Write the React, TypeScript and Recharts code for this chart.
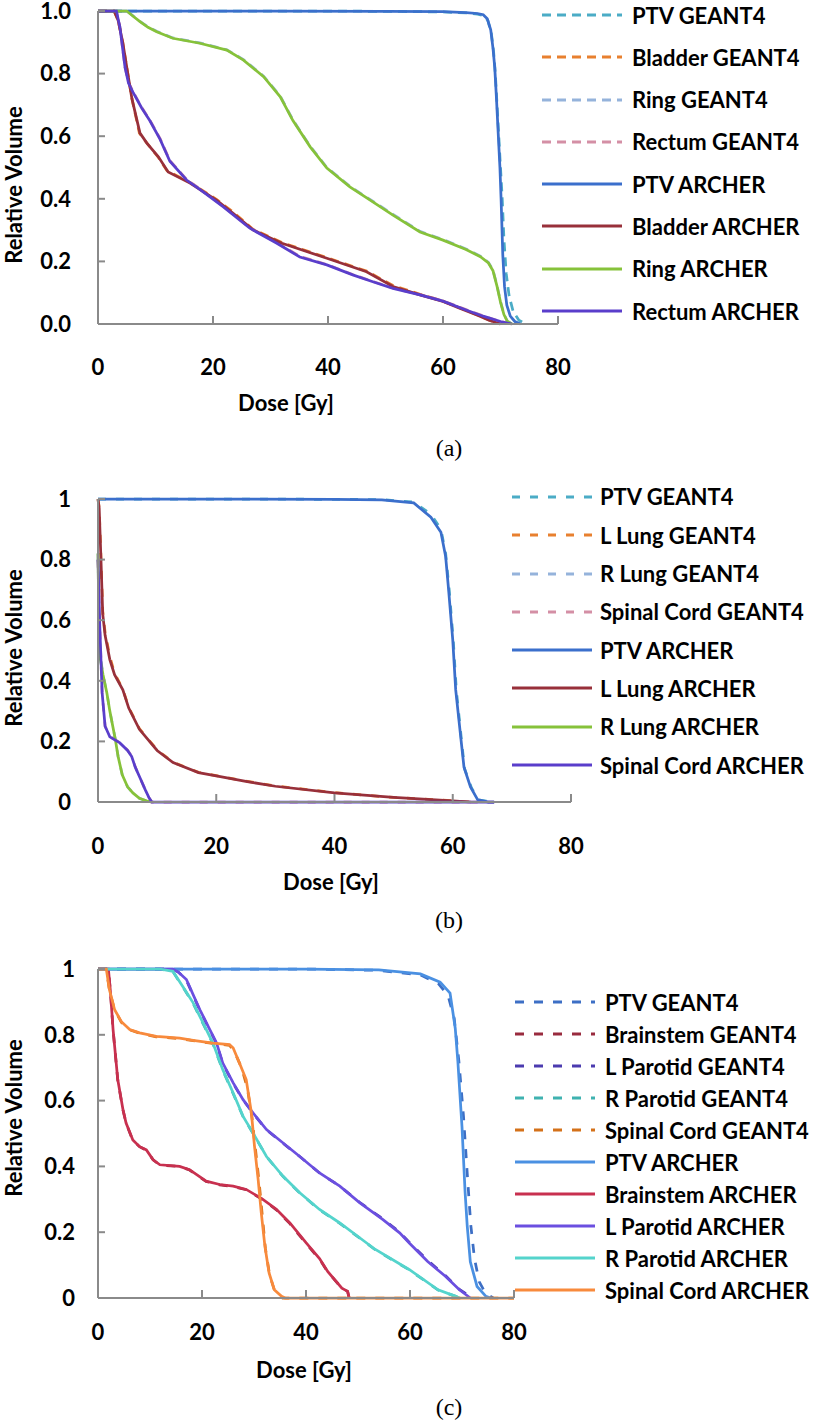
import React from 'react'
import { LineChart, Line, XAxis, YAxis, Legend } from 'recharts'

type Pt = [number, number]

// ---- (a) prostate: [dose Gy, relative volume]
const ptvG4A: Pt[] = [[0,1],[30,1],[50,0.999],[60,0.997],[64,0.994],[66,0.99],[67,0.985],[67.8,0.97],[68.4,0.93],[68.8,0.87],[69.1,0.8],[69.4,0.7],[69.7,0.6],[70,0.5],[70.3,0.4],[70.6,0.27],[71,0.16],[71.5,0.09],[72.2,0.04],[73.2,0.012],[74.5,0]]
const bladderG4A: Pt[] = [[0,1],[2.8,1],[3.5,0.97],[4.3,0.9],[5,0.82],[5.9,0.72],[7.2,0.61],[8.4,0.58],[10.4,0.535],[12,0.49],[16,0.452],[20.6,0.398],[23.6,0.356],[27,0.302],[32,0.26],[39.8,0.212],[46.7,0.169],[51.3,0.123],[56,0.095],[60,0.073],[63,0.051],[66,0.029],[68,0.013],[70,0]]
const ringG4A: Pt[] = [[0,1],[5,1],[6,0.986],[7.3,0.967],[8.7,0.949],[10.2,0.935],[13,0.914],[17.7,0.898],[22.4,0.876],[25.3,0.845],[28.8,0.792],[31.7,0.728],[33.9,0.652],[36.9,0.568],[39.8,0.5],[43.8,0.44],[46.8,0.404],[51.3,0.35],[56,0.296],[60,0.27],[64,0.24],[66.5,0.217],[67.9,0.197],[68.7,0.172],[69.4,0.122],[70,0.072],[70.6,0.032],[71.2,0.009],[72,0]]
const rectumG4A: Pt[] = [[0,1],[3.2,1],[3.8,0.95],[4.7,0.82],[5.3,0.772],[6.1,0.742],[7.6,0.692],[9,0.652],[10.8,0.592],[12.5,0.522],[15.4,0.462],[17.7,0.432],[21.8,0.376],[26.4,0.308],[31.1,0.26],[35.1,0.216],[39.8,0.19],[44.3,0.158],[47.8,0.136],[51.3,0.115],[56,0.094],[60,0.074],[64,0.046],[67,0.026],[70,0.008],[72,0]]
const ptvArA: Pt[] = [[0,1],[30,1],[50,0.999],[60,0.998],[64,0.995],[66,0.992],[67,0.988],[67.7,0.975],[68.3,0.94],[68.7,0.88],[69,0.82],[69.3,0.72],[69.6,0.61],[69.9,0.5],[70.1,0.4],[70.4,0.22],[70.7,0.12],[71.1,0.06],[71.7,0.025],[72.5,0.008],[73.5,0]]
const bladderArA: Pt[] = [[0,1],[2.8,1],[3.5,0.97],[4.3,0.9],[5,0.82],[5.9,0.72],[7.3,0.61],[8.5,0.578],[10.5,0.534],[12.2,0.486],[16,0.45],[20.6,0.396],[23.5,0.354],[27,0.3],[32,0.258],[39.8,0.21],[46.7,0.167],[51.3,0.12],[56,0.093],[60,0.072],[63,0.05],[66,0.028],[68,0.012],[70,0]]
const ringArA: Pt[] = [[0,1],[5,1],[6,0.985],[7.3,0.966],[8.7,0.948],[10.2,0.934],[13,0.913],[17.7,0.897],[22.4,0.875],[25.3,0.843],[28.8,0.79],[31.7,0.726],[33.9,0.65],[36.9,0.566],[39.8,0.498],[43.8,0.438],[46.8,0.402],[51.3,0.348],[56,0.294],[60,0.268],[64,0.238],[66.5,0.215],[67.9,0.195],[68.7,0.17],[69.4,0.12],[70,0.07],[70.6,0.03],[71.2,0.008],[72,0]]
const rectumArA: Pt[] = [[0,1],[3.2,1],[3.8,0.95],[4.7,0.82],[5.3,0.77],[6.1,0.74],[7.6,0.69],[9,0.65],[10.8,0.59],[12.5,0.52],[15.4,0.46],[17.7,0.43],[21.8,0.374],[26.4,0.306],[31.1,0.258],[35.1,0.214],[39.8,0.189],[44.3,0.157],[47.8,0.135],[51.3,0.114],[56,0.093],[60,0.073],[64,0.045],[67,0.025],[70,0.008],[72,0]]

// ---- (b) lung
const ptvG4B: Pt[] = [[0,1],[20,1],[40,0.999],[48,0.998],[53.4,0.99],[56.3,0.95],[58,0.9],[58.8,0.82],[59.4,0.7],[60.1,0.53],[60.6,0.37],[61.5,0.2],[62,0.11],[63.2,0.045],[64.5,0.006],[67,0]]
const lLungG4B: Pt[] = [[0,1],[0.2,0.97],[0.5,0.81],[0.8,0.63],[1.2,0.56],[2,0.48],[2.8,0.425],[4.2,0.372],[5.2,0.312],[7,0.242],[10,0.172],[12.7,0.131],[17,0.098],[20,0.087],[25,0.069],[30,0.053],[40,0.031],[50,0.015],[60,0.004],[63,0]]
const rLungG4B: Pt[] = [[0,0.82],[0.15,0.6],[0.4,0.48],[0.85,0.42],[1.5,0.36],[2,0.3],[2.9,0.21],[3.4,0.15],[4.1,0.09],[5,0.05],[5.9,0.03],[7,0.012],[8.3,0.003],[9,0]]
const cordG4B: Pt[] = [[0,0.8],[0.3,0.58],[0.7,0.36],[1.2,0.25],[2,0.216],[3.7,0.196],[5,0.171],[5.7,0.151],[6.3,0.116],[7.1,0.08],[8,0.04],[8.6,0.015],[9.1,0],[67,0]]
const ptvArB: Pt[] = [[0,1],[20,1],[40,0.999],[48,0.997],[53.4,0.987],[56.3,0.94],[58,0.89],[58.8,0.81],[59.3,0.7],[60,0.535],[60.5,0.37],[61.4,0.205],[61.9,0.115],[63,0.05],[64.2,0.008],[66,0],[67,0]]
const lLungArB: Pt[] = [[0,1],[0.2,0.97],[0.5,0.8],[0.8,0.62],[1.2,0.55],[2,0.47],[2.8,0.42],[4.2,0.37],[5.2,0.31],[7,0.24],[10,0.17],[12.7,0.13],[17,0.097],[20,0.086],[25,0.068],[30,0.052],[40,0.03],[50,0.015],[60,0.004],[63,0]]
const rLungArB: Pt[] = [[0,0.82],[0.15,0.6],[0.4,0.47],[0.85,0.42],[1.5,0.36],[2,0.3],[2.9,0.21],[3.4,0.15],[4.1,0.09],[5,0.05],[5.9,0.03],[7,0.012],[8.3,0.003],[9,0]]
const cordArB: Pt[] = [[0,0.8],[0.3,0.58],[0.7,0.36],[1.2,0.25],[2,0.215],[3.7,0.195],[5,0.17],[5.7,0.15],[6.3,0.115],[7.1,0.08],[8,0.04],[8.6,0.015],[9.1,0],[67,0]]

// ---- (c) head & neck
const ptvG4C: Pt[] = [[0,1],[20,1],[40,1],[54,0.996],[62,0.982],[65.5,0.955],[67.3,0.92],[68.5,0.85],[69.4,0.72],[70.3,0.55],[71,0.38],[71.7,0.22],[72.4,0.12],[73.3,0.05],[74.5,0.015],[76,0]]
const brainG4C: Pt[] = [[0,1],[2,1],[2.4,0.93],[2.9,0.815],[3.8,0.662],[4.8,0.572],[5.4,0.531],[6.7,0.479],[8,0.46],[9.3,0.449],[10.6,0.42],[11.9,0.404],[15.7,0.4],[17.6,0.389],[20.8,0.354],[23.4,0.344],[26,0.339],[28.5,0.329],[31.7,0.299],[34.3,0.268],[36.9,0.226],[40,0.166],[42.6,0.118],[44.2,0.079],[46.9,0.03],[48,0.02],[48.3,0]]
const lParG4C: Pt[] = [[0,1],[14.4,1],[15.5,0.99],[17,0.966],[19.6,0.874],[21.5,0.814],[22.8,0.773],[24,0.712],[26,0.652],[27.9,0.602],[29.8,0.562],[32.4,0.511],[35.6,0.47],[38.8,0.43],[42.6,0.38],[46.5,0.34],[50.3,0.291],[54.8,0.24],[58,0.2],[60,0.167],[63.4,0.114],[66.8,0.068],[69.5,0.026],[72,0]]
const rParG4C: Pt[] = [[0,1],[11.9,1],[14.4,0.992],[16.3,0.946],[18.3,0.895],[20.2,0.834],[22.1,0.773],[24,0.692],[26,0.621],[27.9,0.551],[29.8,0.501],[32.4,0.43],[35.6,0.369],[38.8,0.319],[42.6,0.268],[46.5,0.227],[51.6,0.167],[53.1,0.149],[59.9,0.085],[65.4,0.024],[68.8,0.005],[69.5,0]]
const cordG4C: Pt[] = [[0,1],[1.6,1],[2.2,0.935],[3.2,0.875],[4.5,0.838],[6.1,0.815],[8,0.805],[11.2,0.794],[15.7,0.788],[18.3,0.782],[22.1,0.774],[25.3,0.768],[26.2,0.75],[27.6,0.7],[28.7,0.64],[29.6,0.55],[30.3,0.45],[31,0.35],[31.6,0.25],[32.2,0.15],[33,0.07],[34,0.02],[35.5,0],[80,0]]
const ptvArC: Pt[] = [[0,1],[20,1],[40,1],[54,0.997],[62,0.985],[65.8,0.96],[67.7,0.927],[68.7,0.82],[69.2,0.72],[70,0.52],[70.6,0.32],[71,0.22],[71.6,0.11],[72.9,0.035],[74.6,0.005],[75.5,0]]
const brainArC: Pt[] = [[0,1],[2,1],[2.4,0.93],[2.9,0.816],[3.8,0.664],[4.8,0.573],[5.4,0.532],[6.7,0.48],[8,0.46],[9.3,0.45],[10.6,0.42],[11.9,0.405],[15.7,0.4],[17.6,0.39],[20.8,0.355],[23.4,0.345],[26,0.34],[28.5,0.33],[31.7,0.3],[34.3,0.27],[36.9,0.228],[40,0.168],[42.6,0.12],[44.2,0.08],[46.9,0.03],[48,0.02],[48.3,0]]
const lParArC: Pt[] = [[0,1],[14.4,1],[15.5,0.99],[17,0.968],[19.6,0.876],[21.5,0.816],[22.8,0.775],[24,0.714],[26,0.654],[27.9,0.603],[29.8,0.563],[32.4,0.512],[35.6,0.471],[38.8,0.43],[42.6,0.38],[46.5,0.34],[50.3,0.29],[54.8,0.238],[58,0.198],[60,0.165],[63.4,0.111],[66.8,0.066],[69.5,0.025],[71.6,0]]
const rParArC: Pt[] = [[0,1],[11.9,1],[14.4,0.993],[16.3,0.947],[18.3,0.897],[20.2,0.836],[22.1,0.775],[24,0.694],[26,0.623],[27.9,0.552],[29.8,0.502],[32.4,0.43],[35.6,0.37],[38.8,0.32],[42.6,0.269],[46.5,0.228],[51.6,0.168],[53.1,0.15],[59.9,0.086],[65.4,0.025],[68.8,0.005],[69.5,0]]
const cordArC: Pt[] = [[0,1],[1.6,1],[2.2,0.937],[3.2,0.876],[4.5,0.84],[6.1,0.816],[8,0.806],[11.2,0.795],[15.7,0.79],[18.3,0.783],[22.1,0.775],[25.3,0.77],[26,0.76],[27.2,0.714],[28.5,0.664],[29.5,0.563],[30.1,0.461],[30.8,0.36],[31.4,0.259],[32.1,0.157],[32.9,0.076],[33.9,0.025],[35.3,0.005],[36,0],[80,0]]

const xTicks = [0, 20, 40, 60, 80]
const yTicks = [0, 0.2, 0.4, 0.6, 0.8, 1]

interface Series { name: string; color: string; dashed?: boolean; data: Pt[] }

const seriesA: Series[] = [
  { name: 'PTV GEANT4', color: '#4BACC6', dashed: true, data: ptvG4A },
  { name: 'Bladder GEANT4', color: '#E8802F', dashed: true, data: bladderG4A },
  { name: 'Ring GEANT4', color: '#95B3DB', dashed: true, data: ringG4A },
  { name: 'Rectum GEANT4', color: '#D48FA5', dashed: true, data: rectumG4A },
  { name: 'PTV ARCHER', color: '#3B6FCC', data: ptvArA },
  { name: 'Bladder ARCHER', color: '#98303A', data: bladderArA },
  { name: 'Ring ARCHER', color: '#86C23A', data: ringArA },
  { name: 'Rectum ARCHER', color: '#5A3ECB', data: rectumArA },
]

const seriesB: Series[] = [
  { name: 'PTV GEANT4', color: '#4BACC6', dashed: true, data: ptvG4B },
  { name: 'L Lung GEANT4', color: '#E8802F', dashed: true, data: lLungG4B },
  { name: 'R Lung GEANT4', color: '#95B3DB', dashed: true, data: rLungG4B },
  { name: 'Spinal Cord GEANT4', color: '#D48FA5', dashed: true, data: cordG4B },
  { name: 'PTV ARCHER', color: '#3B6FCC', data: ptvArB },
  { name: 'L Lung ARCHER', color: '#98303A', data: lLungArB },
  { name: 'R Lung ARCHER', color: '#86C23A', data: rLungArB },
  { name: 'Spinal Cord ARCHER', color: '#5A3ECB', data: cordArB },
]

const seriesC: Series[] = [
  { name: 'PTV GEANT4', color: '#3D6FC5', dashed: true, data: ptvG4C },
  { name: 'Brainstem GEANT4', color: '#992B3E', dashed: true, data: brainG4C },
  { name: 'L Parotid GEANT4', color: '#4B3BAF', dashed: true, data: lParG4C },
  { name: 'R Parotid GEANT4', color: '#3FB2B0', dashed: true, data: rParG4C },
  { name: 'Spinal Cord GEANT4', color: '#D47119', dashed: true, data: cordG4C },
  { name: 'PTV ARCHER', color: '#4A90E2', data: ptvArC },
  { name: 'Brainstem ARCHER', color: '#C8304F', data: brainArC },
  { name: 'L Parotid ARCHER', color: '#6B4FE0', data: lParArC },
  { name: 'R Parotid ARCHER', color: '#54D4CC', data: rParArC },
  { name: 'Spinal Cord ARCHER', color: '#F88A3C', data: cordArC },
]

const FONT = 'Lato, "Open Sans", sans-serif'
const AXIS = { stroke: '#8a8a8a', strokeWidth: 2 }
const TICK = { fill: '#000', fontSize: 22, fontWeight: 700, fontFamily: FONT }
const W = 815

const pts = (d: Pt[]) => d.map(([x, y]) => ({ x, y }))

function LegendBox({ series, first, gap, dash, textGap }: { series: Series[]; first: number; gap: number; dash: string; textGap: number }) {
  return (
    <div style={{ marginTop: first - gap / 2 }}>
      {series.map(s => (
        <div key={s.name} style={{ height: gap, display: 'flex', alignItems: 'center', fontFamily: FONT, fontWeight: 700, fontSize: 22, color: '#000', whiteSpace: 'nowrap' }}>
          <svg width={80} height={6} style={{ flex: 'none' }}>
            <line x1={0} y1={3} x2={80} y2={3} stroke={s.color} strokeWidth={3} strokeDasharray={s.dashed ? dash : undefined} />
          </svg>
          <span style={{ marginLeft: textGap }}>{s.name}</span>
        </div>
      ))}
    </div>
  )
}

interface PanelProps {
  top: number; height: number; series: Series[]
  box: { left: number; right: number; top: number; bottom: number }
  xTickMargin: number; yTickMargin: number; yFmt: (v: number) => string
  legend: { left: number; first: number; gap: number; dash: string; textGap: number }
  yTitle: [number, number]; xTitle: [number, number]; caption: [number, number]; label: string
}

function Panel(p: PanelProps) {
  const center: React.CSSProperties = { position: 'absolute', transform: 'translate(-50%, -50%)', whiteSpace: 'nowrap' }
  const title: React.CSSProperties = { ...center, fontFamily: FONT, fontWeight: 700, fontSize: 22, color: '#000', lineHeight: '24px' }
  // axes get 1px of room so recharts still draws them
  return (
    <div style={{ position: 'absolute', left: 0, top: p.top, width: W, height: p.height }}>
      <LineChart width={W} height={p.height} margin={{ top: p.box.top, left: p.box.left - 1, right: W - p.box.right, bottom: p.height - p.box.bottom - 1 }}>
        <XAxis type="number" dataKey="x" domain={[0, 80]} ticks={xTicks} interval={0} height={1}
          tickSize={-8} tickMargin={p.xTickMargin} axisLine={AXIS} tickLine={AXIS} tick={TICK} />
        <YAxis type="number" domain={[0, 1]} ticks={yTicks} interval={0} width={1}
          tickSize={-7} tickMargin={p.yTickMargin} tickFormatter={p.yFmt} axisLine={AXIS} tickLine={AXIS} tick={TICK} />
        {p.series.map(s => (
          <Line key={s.name} name={s.name} data={pts(s.data)} dataKey="y" type="linear" stroke={s.color}
            strokeWidth={2.75} strokeDasharray={s.dashed ? p.legend.dash : undefined}
            dot={false} activeDot={false} isAnimationActive={false} />
        ))}
        <Legend layout="vertical" align="center" verticalAlign="middle"
          wrapperStyle={{ left: p.legend.left, top: 0, width: W - p.legend.left }}
          content={() => <LegendBox series={p.series} first={p.legend.first} gap={p.legend.gap} dash={p.legend.dash} textGap={p.legend.textGap} />} />
      </LineChart>
      <div style={{ ...title, left: p.yTitle[0], top: p.yTitle[1], transform: 'translate(-50%, -50%) rotate(-90deg)' }}>Relative Volume</div>
      <div style={{ ...title, left: p.xTitle[0], top: p.xTitle[1] }}>Dose [Gy]</div>
      <div style={{ ...center, left: p.caption[0], top: p.caption[1], fontFamily: '"Liberation Serif", "Times New Roman", serif', fontSize: 24, color: '#000' }}>{p.label}</div>
    </div>
  )
}

export default function App() {
  return (
    <div style={{ position: 'absolute', left: 0, top: 0, width: W, height: 1420, background: '#fff', overflow: 'hidden' }}>
      <Panel top={0} height={460} series={seriesA} box={{ left: 98, right: 558, top: 11, bottom: 324 }}
        xTickMargin={43} yTickMargin={34} yFmt={v => v.toFixed(1)}
        legend={{ left: 542, first: 15, gap: 42.3, dash: '9 6', textGap: 10 }}
        yTitle={[14, 185]} xTitle={[286, 403]} caption={[449, 448]} label="(a)" />
      <Panel top={460} height={480} series={seriesB} box={{ left: 98, right: 571, top: 39, bottom: 342 }}
        xTickMargin={44} yTickMargin={34} yFmt={v => String(v)}
        legend={{ left: 512, first: 37, gap: 38.3, dash: '8 10', textGap: 8 }}
        yTitle={[14, 188]} xTitle={[331, 422]} caption={[449, 460]} label="(b)" />
      <Panel top={940} height={480} series={seriesC} box={{ left: 98, right: 514, top: 29, bottom: 358 }}
        xTickMargin={34} yTickMargin={30} yFmt={v => String(v)}
        legend={{ left: 515, first: 62, gap: 32, dash: '9 10', textGap: 10 }}
        yTitle={[14, 178]} xTitle={[304, 430]} caption={[449, 467]} label="(c)" />
    </div>
  )
}
